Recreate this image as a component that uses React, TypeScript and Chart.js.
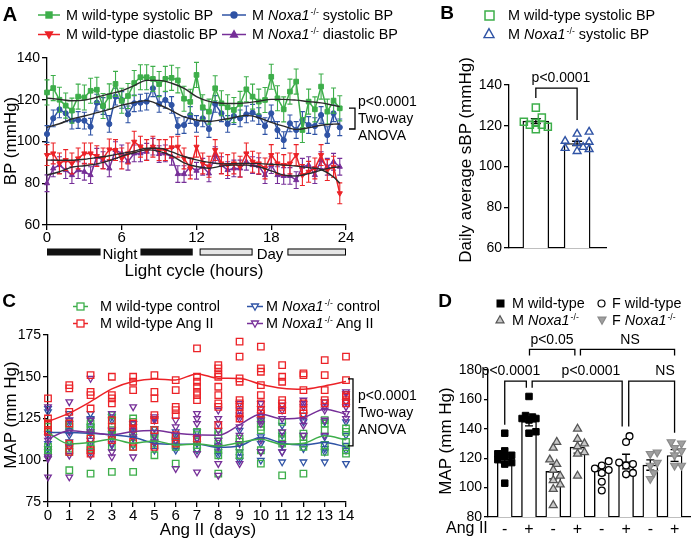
import React, { useEffect, useRef } from 'react';
import { Chart, registerables } from 'chart.js';

Chart.register(...registerables);

const FONT = "'Liberation Sans', Arial, Helvetica, sans-serif";
Chart.defaults.font.family = FONT;
Chart.defaults.color = '#000';

const GREEN = '#3DAE4A';
const BLUE = '#2F53A5';
const RED = '#EC2227';
const PURPLE = '#762F98';
const FIT = '#2a2a2a';
const CLEAR = 'rgba(255,255,255,0)';

// ---------------- Panel A data ----------------
const hoursA = [0, 0.5, 1, 1.5, 2, 2.5, 3, 3.5, 4, 4.5, 5, 5.5, 6, 6.5, 7, 7.5, 8, 8.5, 9, 9.5, 10, 10.5, 11, 11.5, 12, 12.5, 13, 13.5, 14, 14.5, 15, 15.5, 16, 16.5, 17, 17.5, 18, 18.5, 19, 19.5, 20, 20.5, 21, 21.5, 22, 22.5, 23, 23.5];
const wtSystolic = [123.5, 125.6, 120, 117.2, 114.8, 121.5, 121.1, 124.3, 124.8, 117, 121.6, 127.6, 119.5, 121.8, 128, 130.8, 130.8, 130, 127.5, 130, 130.5, 129.3, 120.5, 119, 131.9, 116.4, 114.3, 125.5, 118.3, 116.4, 115.1, 118, 125, 121.5, 119.1, 119.9, 131, 120.7, 115.4, 123.9, 128.7, 105.5, 119.1, 115.4, 126.3, 114.3, 119.6, 115.9];
const koSystolic = [103.6, 111.1, 115.4, 113.5, 110, 110.3, 110, 107.1, 118.6, 117, 108.4, 121.5, 119.9, 113, 118.3, 118.6, 119.1, 125.5, 118, 119.9, 117.5, 107.4, 107.9, 112.7, 108.4, 111.1, 106, 118, 113.5, 108.4, 112.2, 111.1, 113, 113.8, 112.2, 107.4, 113.5, 105.5, 100.7, 108.7, 105.5, 110.3, 107.9, 107.4, 112.7, 103.1, 113.5, 106.8];
const wtDiastolic = [93.5, 94.3, 89.5, 91.1, 89.5, 91.9, 94.3, 94.3, 93, 91.9, 96.2, 95.9, 91.9, 94.3, 99.9, 97.5, 95.9, 97.5, 95.9, 95.9, 97.2, 97.5, 91.9, 87.1, 97.5, 89.5, 87.9, 95.9, 89.5, 88.7, 89.5, 87.9, 94.3, 90.3, 89.5, 87.1, 93.5, 89.5, 88.7, 89.5, 93.5, 83.9, 85.5, 87.1, 93.5, 86.3, 87.9, 75.2];
const koDiastolic = [80, 87.1, 88.7, 86.3, 83.9, 86.3, 85.5, 83.9, 92.7, 91.1, 87.1, 95.9, 94.3, 90.3, 94.3, 94.3, 95.1, 97.5, 94, 94.3, 92.7, 84.4, 84.4, 87.9, 86, 87.9, 84.7, 93.5, 88.7, 86.3, 87.1, 87.1, 90.3, 88.7, 88.2, 83.9, 88.7, 83.9, 83.5, 83.5, 81.5, 87.9, 88.7, 83.9, 91.1, 87.9, 90.3, 87.9];
const semWtSys = 6;
const semKoSys = 4;
const semWtDia = 5;
const semKoDia = 4;
const fitHours = [0, 1, 2, 3, 4, 5, 6, 7, 8, 9, 10, 11, 12, 13, 14, 15, 16, 17, 18, 19, 20, 21, 22, 23, 23.5];
const fitWtSys = [120.8, 120.2, 119.5, 119.8, 121.2, 122.8, 124.3, 126.8, 129.3, 129.3, 127.9, 125.5, 121.5, 119.2, 118.3, 118.2, 118.5, 119.3, 120.2, 120.2, 119.8, 119.1, 118.5, 117.3, 116.7];
const fitKoSys = [106.8, 108.5, 110.8, 112.2, 113.8, 115.4, 117.4, 118.7, 119.6, 117.6, 114.8, 111.8, 110.3, 109.6, 110.4, 111.5, 112.5, 111.4, 109.2, 107.4, 105.8, 106.6, 107.8, 108.3, 108.4];
const fitWtDia = [91.1, 91.0, 91.0, 91.5, 92.3, 93.2, 94.3, 95.4, 96.8, 96.8, 95, 92.8, 91.2, 90.0, 89.3, 89.4, 89.5, 89.4, 89.1, 88.7, 88.2, 87.5, 86.6, 83, 80];
const fitKoDia = [83.9, 85.5, 87.7, 88.4, 89.3, 90.8, 93, 94.6, 96, 95.3, 93.2, 89.8, 88, 87.2, 88.2, 88.7, 88.7, 87.9, 85.9, 83.9, 83.5, 84.6, 86.3, 87.6, 87.9];
const nightFrom = [0, 7.5];
const nightTo = [4.3, 11.7];
const dayFrom = [12.25, 19.3];
const dayTo = [16.5, 24];
const bracketA = [106, 116];

// ---------------- Panel B data ----------------
const bWtSys = [128.9, 124, 119.5, 120.5, 120.5, 122, 118.3, 121.5];
const bKoSys = [116, 117, 112.5, 112, 111.5, 107.5, 109.5, 108.5, 109];
const bMeans = [122.3, 111.3];
const bSem = [1.2, 1.1];

// ---------------- Panel C data ----------------
const cDays = [0, 1, 2, 3, 4, 5, 6, 7, 8, 9, 10, 11, 12, 13, 14];
const cWtCtrl = [
  [122, 120, 108, 106, 104], [122, 120, 109, 107, 105, 94], [122, 120, 118, 115, 109, 107, 92],
  [127, 124, 120, 118, 115, 108, 93], [125, 123, 117, 110, 108, 93], [118, 116, 113, 110, 103],
  [114, 112, 110, 108, 98], [117, 115, 112, 109, 107], [117, 115, 110, 107, 103, 92],
  [113, 111, 108, 103], [124, 122, 120, 118, 106, 98], [123, 116, 113, 110, 91],
  [116, 114, 110, 108, 92], [124, 122, 118, 109, 105], [119, 117, 111, 106, 104],
];
const cWtAng = [
  [137, 125, 122, 118, 117], [145, 143, 129, 122, 110, 105], [151, 141, 139, 131, 113, 106, 104],
  [150, 139, 137, 134, 124, 120, 112], [150, 147, 142, 122, 119, 111, 108], [151, 141, 137, 127, 124, 118, 108],
  [148, 142, 132, 130, 127, 115, 110], [167, 150, 147, 144, 141, 139, 136, 113], [157, 155, 152, 150, 144, 139, 134, 132, 121],
  [171, 162, 149, 147, 136, 134, 132, 128, 125], [168, 155, 153, 145, 139, 134, 130, 128], [157, 150, 147, 136, 134, 132, 130],
  [152, 151, 142, 134, 130, 128], [160, 151, 142, 136, 134], [162, 148, 139, 138, 136, 134],
];
const cKoCtrl = [
  [131, 129, 116, 110, 107, 105], [128, 124, 122, 118, 115, 111, 108], [128, 125, 124, 120, 116, 110, 105],
  [126, 124, 118, 116, 113, 109], [122, 120, 117, 113, 109], [125, 119, 114, 110, 106],
  [117, 115, 111, 108, 106], [117, 113, 110, 106], [112, 109, 105, 103],
  [118, 110, 105, 102, 100], [126, 124, 114, 110, 105, 100], [121, 115, 109, 105, 99],
  [127, 123, 115, 107, 99], [123, 114, 110, 107, 105, 99], [123, 115, 109, 106, 98],
];
const cKoAng = [
  [132, 114, 112, 102, 101, 90], [135, 124, 117, 108, 103, 90], [149, 124, 117, 112, 103],
  [128, 118, 110, 105, 102], [132, 122, 118, 114, 102], [126, 124, 115, 111],
  [124, 120, 115, 112, 95], [128, 125, 122, 113, 104, 93], [130, 125, 122, 118, 112, 108, 98, 91],
  [134, 130, 127, 125, 120, 115, 110, 98], [134, 131, 127, 124, 122, 112, 105], [133, 130, 125, 117, 110, 105],
  [136, 134, 132, 124, 121, 115], [135, 132, 130, 124, 115], [141, 140, 135, 132, 128, 125],
];
const cWtCtrlMean = [116.5, 109.8, 110.6, 112.6, 110.2, 111.6, 109.2, 109.8, 108.6, 110.6, 112.6, 109.6, 110.2, 114.6, 112.2];
const cWtAngMean = [123.2, 128.2, 135.1, 142.7, 147.1, 148.7, 148.1, 151.7, 149.1, 149, 145.5, 143.1, 142.5, 144.5, 147.1];
const cKoCtrlMean = [116.6, 116.6, 116.1, 115.2, 113.8, 110.2, 109.6, 109.6, 107.8, 108.6, 113.8, 110.2, 109.2, 110.6, 108];
const cKoAngMean = [112.8, 117.6, 116.6, 115.2, 117.2, 117.8, 116.2, 115.2, 115, 121.2, 127.6, 124.8, 125.6, 130.6, 127.6];
const bracketC = [108.6, 148.7];

// ---------------- Panel D data ----------------
const dAngII = ['-', '+', '-', '+', '-', '+', '-', '+'];
const dMeans = [119.5, 145, 111, 127.5, 111.5, 117.7, 115.3, 121.8];
const dSem = [3, 3, 5, 4, 3, 5, 3.5, 4];
const dMWtCtrl = [137, 125, 123, 122, 121, 119, 117, 116, 103];
const dMWtAng = [162, 149, 148, 147, 147, 146, 138, 137];
const dMKoCtrl = [131, 127, 119, 116, 112, 108, 105, 102, 99, 88];
const dMKoAng = [140, 133, 130, 128, 124, 123, 108];
const dFWtCtrl = [118, 115, 113, 112, 110, 104, 98];
const dFWtAng = [135, 131, 117, 116, 115, 110, 109];
const dFKoCtrl = [124, 123, 117, 115, 110, 106];
const dFKoAng = [131, 130, 127, 125, 122, 115, 115];
// significance brackets: [x1, x2, yTop, leg1Bottom, leg2Bottom]
const dBrackets = [
  [1, 1.89, 172.4, 142.8, 168],
  [2.13, 5.84, 172.4, 168, 141.6],
  [6.11, 8, 172.4, 141.6, 137.3],
  [2.02, 3.89, 194, 189.9, 189.9],
  [4.12, 8, 194, 189.9, 189.9],
];

// ---------------- helpers ----------------
function swarm(vals: number[], center: number, pxPerY: number, pxPerX: number, size: number, step: number, maxSteps: number) {
  const placed: { x: number; y: number }[] = [];
  const order = vals.map((_, i) => i).sort((a, b) => vals[a] - vals[b]);
  const out: any[] = new Array(vals.length);
  for (const i of order) {
    const py = vals[i] * pxPerY;
    let best = 0, bestD = -1;
    for (let k = 0; k <= maxSteps * 2; k++) {
      const off = (k % 2 === 1 ? 1 : -1) * Math.ceil(k / 2) * step;
      const d = placed.length ? Math.min(...placed.map((p) => Math.hypot(p.x - off, p.y - py))) : Infinity;
      if (d >= size) { best = off; bestD = d; break; }
      if (d > bestD) { bestD = d; best = off; }
    }
    placed.push({ x: best, y: py });
    out[i] = { x: center + best / pxPerX, y: vals[i] };
  }
  return out;
}

function drawErr(chart: any, args: any, after: boolean) {
  const ds = chart.data.datasets[args.index];
  if (ds.err == null || !!ds.errAfter !== after) return;
  const ys = chart.scales.y;
  const ctx = chart.ctx;
  ctx.save();
  ctx.strokeStyle = ds.errColor || ds.borderColor;
  ctx.lineWidth = ds.errWidth || 1.2;
  const cap = ds.errCap ?? 2.5;
  args.meta.data.forEach((el: any, i: number) => {
    const raw = ds.data[i];
    const v = typeof raw === 'number' ? raw : raw.y;
    const e = Array.isArray(ds.err) ? ds.err[i] : ds.err;
    const x = el.x;
    const t = ys.getPixelForValue(v + e);
    const b = ys.getPixelForValue(v - e);
    ctx.beginPath();
    ctx.moveTo(x, t);
    ctx.lineTo(x, b);
    ctx.moveTo(x - cap, t);
    ctx.lineTo(x + cap, t);
    ctx.moveTo(x - cap, b);
    ctx.lineTo(x + cap, b);
    ctx.stroke();
  });
  ctx.restore();
}

const errorBars = {
  id: 'errorBars',
  beforeDatasetDraw(chart: any, args: any) { drawErr(chart, args, false); },
  afterDatasetDraw(chart: any, args: any) { drawErr(chart, args, true); },
};

const fixX = (h: number) => (s: any) => { s.height = h; s.paddingLeft = 0; s.paddingRight = 0; };
const fixY = (w: number) => (s: any) => { s.width = w; s.paddingTop = 0; s.paddingBottom = 0; };

const LW = 1.3;
function axis(min: number, max: number, step: number, size: number, fit: any, tickLen = 5, pad = 2, extra: any = {}) {
  return {
    type: 'linear', min, max, offset: false,
    ticks: { stepSize: step, font: { size, family: FONT }, color: '#000', padding: pad, autoSkip: false, maxRotation: 0 },
    grid: { display: true, drawOnChartArea: false, drawTicks: true, tickLength: tickLen, color: '#000', lineWidth: LW, offset: false },
    border: { display: true, color: '#000', width: LW },
    afterFit: fit,
    ...extra,
  };
}

const baseOpts = (padding: any) => ({
  animation: false, responsive: false, events: [],
  layout: { padding },
  plugins: { legend: { display: false }, tooltip: { enabled: false }, title: { display: false } },
});

const xy = (xs: number[], ys: number[]) => ys.map((y, i) => ({ x: xs[i], y }));

// ---------------- Chart configs ----------------
function configA() {
  const fit = (vals: number[]) => ({
    data: xy(fitHours, vals), borderColor: FIT, borderWidth: 1.4, pointRadius: 0, tension: 0.4, cubicInterpolationMode: 'monotone', clip: false,
  });
  const series = (vals: number[], color: string, style: string, r: number, rot: number, err: number) => ({
    data: xy(hoursA, vals), borderColor: color, backgroundColor: color, borderWidth: 1.5, pointStyle: style, pointRadius: r,
    pointRotation: rot, pointBorderWidth: 1, tension: 0, err, errColor: color, errWidth: 1.1, errCap: 2.5, clip: false,
  });
  const decorA = {
    id: 'decorA',
    afterDraw(chart: any) {
      const { ctx, chartArea: ca, scales: { x, y } } = chart;
      ctx.save();
      const yc = ca.bottom + 27;
      ctx.lineWidth = 1;
      ctx.strokeStyle = '#000';
      nightFrom.forEach((f, i) => {
        const x1 = x.getPixelForValue(f), x2 = x.getPixelForValue(nightTo[i]);
        ctx.fillStyle = '#111';
        ctx.fillRect(x1, yc - 3.5, x2 - x1, 7);
      });
      dayFrom.forEach((f, i) => {
        const x1 = x.getPixelForValue(f), x2 = x.getPixelForValue(dayTo[i]);
        ctx.fillStyle = '#e6e6e6';
        ctx.fillRect(x1, yc - 3.5, x2 - x1, 7);
        ctx.strokeRect(x1 + 0.5, yc - 3, x2 - x1 - 1, 6);
      });
      const bx = ca.right + 9;
      const t = y.getPixelForValue(bracketA[1]), b = y.getPixelForValue(bracketA[0]);
      ctx.lineWidth = 1.3;
      ctx.beginPath();
      ctx.moveTo(bx - 6, t); ctx.lineTo(bx, t); ctx.lineTo(bx, b); ctx.lineTo(bx - 6, b);
      ctx.stroke();
      ctx.restore();
    },
  };
  return {
    type: 'line',
    data: {
      datasets: [
        fit(fitWtSys), fit(fitKoSys), fit(fitWtDia), fit(fitKoDia),
        series(wtSystolic, GREEN, 'rect', 3.3, 0, semWtSys),
        series(koSystolic, BLUE, 'circle', 2.6, 0, semKoSys),
        series(wtDiastolic, RED, 'triangle', 3, 180, semWtDia),
        series(koDiastolic, PURPLE, 'triangle', 3, 0, semKoDia),
      ],
    },
    options: {
      ...baseOpts({ left: 0, top: 58, right: 94, bottom: 0 }),
      scales: {
        x: axis(0, 24, 6, 15, fixX(35), 5, -1),
        y: axis(60, 140, 20, 14, fixY(47), 5, 2),
      },
    },
    plugins: [errorBars, decorA],
  };
}

function configB() {
  const pxY = 163 / 80, pxX = 97 / 2.35;
  const decorB = {
    id: 'decorB',
    afterDraw(chart: any) {
      const { ctx, scales: { x, y } } = chart;
      ctx.save();
      ctx.lineWidth = 1.3; ctx.strokeStyle = '#000';
      const x1 = x.getPixelForValue(1), x2 = x.getPixelForValue(2);
      ctx.beginPath();
      ctx.moveTo(x1, y.getPixelForValue(133.6)); ctx.lineTo(x1, y.getPixelForValue(138.5));
      ctx.lineTo(x2, y.getPixelForValue(138.5)); ctx.lineTo(x2, y.getPixelForValue(122.8));
      ctx.stroke();
      ctx.restore();
    },
  };
  return {
    type: 'bar',
    data: {
      datasets: [
        { type: 'scatter', data: swarm(bWtSys, 1, pxY, pxX, 7, 6, 2), pointStyle: 'rect', pointRadius: 5, borderColor: GREEN, backgroundColor: CLEAR, borderWidth: 1.5, clip: false },
        { type: 'scatter', data: swarm(bKoSys, 2, pxY, pxX, 7, 6, 2), pointStyle: 'triangle', pointRadius: 4.5, borderColor: BLUE, backgroundColor: CLEAR, borderWidth: 1.4, clip: false },
        { type: 'bar', data: xy([1, 2], bMeans), barThickness: 26, backgroundColor: '#fff', borderColor: '#000', borderWidth: 1.4, err: bSem, errAfter: true, errColor: '#000', errWidth: 1.3, errCap: 5 },
      ],
    },
    options: {
      ...baseOpts({ left: 0, top: 85, right: 90, bottom: 0 }),
      scales: {
        x: axis(0.35, 2.7, 1, 14, fixX(14), 0, 0, { ticks: { display: false }, grid: { display: false, offset: false } }),
        y: axis(60, 140, 20, 14, fixY(69), 5, 2),
      },
    },
    plugins: [errorBars, decorB],
  };
}

function configC() {
  const pts = (groups: number[][]) => groups.flatMap((vals, d) => vals.map((v) => ({ x: cDays[d], y: v })));
  const scatter = (groups: number[][], color: string, style: string, r: number, rot: number) => ({
    type: 'scatter', data: pts(groups), pointStyle: style, pointRadius: r, pointRotation: rot, borderColor: color, backgroundColor: CLEAR, borderWidth: 1.3, clip: false,
  });
  const line = (vals: number[], color: string) => ({
    type: 'line', data: xy(cDays, vals), borderColor: color, borderWidth: 1.5, pointRadius: 0, tension: 0.35, cubicInterpolationMode: 'monotone', clip: false,
  });
  const decorC = {
    id: 'decorC',
    afterDraw(chart: any) {
      const { ctx, chartArea: ca, scales: { y } } = chart;
      ctx.save();
      ctx.lineWidth = 1.3; ctx.strokeStyle = '#000';
      const bx = ca.right + 7;
      const t = y.getPixelForValue(bracketC[1]), b = y.getPixelForValue(bracketC[0]);
      ctx.beginPath();
      ctx.moveTo(bx - 5, t); ctx.lineTo(bx, t); ctx.lineTo(bx, b); ctx.lineTo(bx - 5, b);
      ctx.stroke();
      ctx.restore();
    },
  };
  return {
    type: 'line',
    data: {
      datasets: [
        line(cWtAngMean, RED), line(cKoAngMean, PURPLE), line(cWtCtrlMean, GREEN), line(cKoCtrlMean, BLUE),
        scatter(cWtAng, RED, 'rect', 4.6, 0),
        scatter(cKoAng, PURPLE, 'triangle', 3.8, 180),
        scatter(cWtCtrl, GREEN, 'rect', 4.6, 0),
        scatter(cKoCtrl, BLUE, 'triangle', 3.8, 180),
      ],
    },
    options: {
      ...baseOpts({ left: 0, top: 55, right: 94, bottom: 0 }),
      scales: {
        x: axis(0, 14, 1, 15, fixX(38), 5, 0),
        y: axis(75, 175, 25, 14, fixY(48), 5, 2),
      },
    },
    plugins: [errorBars, decorC],
  };
}

function configD() {
  const pxY = 147 / 100, pxX = 205 / 8.33;
  const groups = [dMWtCtrl, dMWtAng, dMKoCtrl, dMKoAng, dFWtCtrl, dFWtAng, dFKoCtrl, dFKoAng];
  const styles = [
    { pointStyle: 'rect', pointRadius: 4.6, pointRotation: 0, borderColor: '#000', backgroundColor: '#000', borderWidth: 1 },
    { pointStyle: 'triangle', pointRadius: 4.6, pointRotation: 0, borderColor: '#555', backgroundColor: '#c8c8c8', borderWidth: 1.3 },
    { pointStyle: 'circle', pointRadius: 3.4, pointRotation: 0, borderColor: '#000', backgroundColor: '#fff', borderWidth: 1.3 },
    { pointStyle: 'triangle', pointRadius: 4.6, pointRotation: 180, borderColor: '#8a8a8a', backgroundColor: '#a0a0a0', borderWidth: 1.2 },
  ];
  const decorD = {
    id: 'decorD',
    afterDraw(chart: any) {
      const { ctx, scales: { x, y } } = chart;
      ctx.save();
      ctx.lineWidth = 1.3; ctx.strokeStyle = '#000';
      dBrackets.forEach(([x1, x2, yt, l1, l2]) => {
        const px1 = x.getPixelForValue(x1), px2 = x.getPixelForValue(x2);
        ctx.beginPath();
        ctx.moveTo(px1, y.getPixelForValue(l1)); ctx.lineTo(px1, y.getPixelForValue(yt));
        ctx.lineTo(px2, y.getPixelForValue(yt)); ctx.lineTo(px2, y.getPixelForValue(l2));
        ctx.stroke();
      });
      ctx.restore();
    },
  };
  const ticksAt = dAngII.map((_, i) => i + 1);
  return {
    type: 'bar',
    data: {
      datasets: [
        ...groups.map((g, i) => ({ type: 'scatter', data: swarm(g, i + 1, pxY, pxX, 6, 3.5, 2), clip: false, ...styles[Math.floor(i / 2)] })),
        { type: 'bar', data: xy(ticksAt, dMeans), barThickness: 15, backgroundColor: '#fff', borderColor: '#000', borderWidth: 1.4, err: dSem, errAfter: true, errColor: '#000', errWidth: 1.3, errCap: 4 },
      ],
    },
    options: {
      ...baseOpts({ left: 0, top: 90, right: 3, bottom: 0 }),
      scales: {
        x: axis(0.31, 8.64, 1, 16, fixX(23), 0, 1, {
          grid: { display: false, offset: false },
          afterBuildTicks: (s: any) => { s.ticks = ticksAt.map((v) => ({ value: v })); },
          ticks: { font: { size: 16, family: FONT }, color: '#000', padding: -5, autoSkip: false, maxRotation: 0, callback: (_v: any, i: number) => dAngII[i] },
        }),
        y: axis(80, 180, 20, 14, fixY(68), 4, 2),
      },
    },
    plugins: [errorBars, decorD],
  };
}

// ---------------- React components ----------------
function ChartBox({ make, left, top, width, height }: any) {
  const ref = useRef<HTMLCanvasElement>(null);
  useEffect(() => {
    const chart = new Chart(ref.current as any, make() as any);
    return () => chart.destroy();
  }, []);
  return (
    <div style={{ position: 'absolute', left, top, width, height }}>
      <canvas ref={ref} width={width} height={height} style={{ width, height, display: 'block' }} />
    </div>
  );
}

function T({ x, y, size = 14, bold = false, anchor = 'start', rotate = false, children }: any) {
  const style: any = {
    position: 'absolute', left: x, top: y, fontSize: size, fontWeight: bold ? 'bold' : 'normal', lineHeight: 1,
    whiteSpace: 'nowrap', color: '#000',
    transform: rotate ? 'translate(-50%,-50%) rotate(-90deg)' : anchor === 'middle' ? 'translate(-50%,-50%)' : 'translate(0,-50%)',
  };
  return <div style={style}>{children}</div>;
}

function KO() {
  return (
    <>
      <i>Noxa1</i>
      <span style={{ fontSize: '0.6em', position: 'relative', top: '-0.55em', marginLeft: 1 }}>-/-</span>
    </>
  );
}

function Mk({ x, y, w = 0, shape, stroke, fill = 'none', size = 7, sw = 1.4, lineColor }: any) {
  const W = Math.max(w, size + 4), H = size + 4;
  const cx = W / 2, cy = H / 2, r = size / 2;
  const h = size * 0.9;
  let el: any = null;
  if (shape === 'rect') el = <rect x={cx - r} y={cy - r} width={size} height={size} fill={fill} stroke={stroke} strokeWidth={sw} />;
  else if (shape === 'circle') el = <circle cx={cx} cy={cy} r={r} fill={fill} stroke={stroke} strokeWidth={sw} />;
  else if (shape === 'tri') el = <polygon points={`${cx},${cy - h * 0.6} ${cx - r},${cy + h * 0.4} ${cx + r},${cy + h * 0.4}`} fill={fill} stroke={stroke} strokeWidth={sw} />;
  else if (shape === 'triDown') el = <polygon points={`${cx},${cy + h * 0.6} ${cx - r},${cy - h * 0.4} ${cx + r},${cy - h * 0.4}`} fill={fill} stroke={stroke} strokeWidth={sw} />;
  return (
    <svg style={{ position: 'absolute', left: x - W / 2, top: y - H / 2 }} width={W} height={H}>
      {w > 0 && <line x1={0} y1={cy} x2={W} y2={cy} stroke={lineColor || stroke} strokeWidth={1.5} />}
      {el}
    </svg>
  );
}

export default function App() {
  return (
    <div style={{ position: 'fixed', left: 0, top: 0, width: 696, height: 540, background: '#fff', fontFamily: FONT, overflow: 'hidden' }}>
      <ChartBox make={configA} left={0} top={0} width={440} height={260} />
      <ChartBox make={configB} left={440} top={0} width={256} height={262} />
      <ChartBox make={configC} left={0} top={280} width={440} height={260} />
      <ChartBox make={configD} left={420} top={280} width={276} height={260} />

      {/* Panel letters */}
      <T x={10} y={14} size={20} bold anchor="middle">A</T>
      <T x={447} y={12} size={19} bold anchor="middle">B</T>
      <T x={9} y={300} size={19} bold anchor="middle">C</T>
      <T x={445} y={300} size={19} bold anchor="middle">D</T>

      {/* Panel A */}
      <Mk x={49} y={15} w={22} shape="rect" stroke={GREEN} fill={GREEN} size={6} />
      <T x={66} y={15} size={14.4}>M wild-type systolic BP</T>
      <Mk x={234} y={15} w={24} shape="circle" stroke={BLUE} fill={BLUE} size={6} />
      <T x={252} y={15} size={14.4}>M <KO /> systolic BP</T>
      <Mk x={49} y={34} w={22} shape="triDown" stroke={RED} fill={RED} size={7} />
      <T x={66} y={34} size={14.4}>M wild-type diastolic BP</T>
      <Mk x={234} y={34} w={24} shape="tri" stroke={PURPLE} fill={PURPLE} size={7} />
      <T x={252} y={34} size={14.4}>M <KO /> diastolic BP</T>
      <T x={358} y={101}>p&lt;0.0001</T>
      <T x={358} y={118}>Two-way</T>
      <T x={358} y={135}>ANOVA</T>
      <T x={10} y={141} size={17} rotate>BP (mmHg)</T>
      <T x={120} y={253} size={15} anchor="middle">Night</T>
      <T x={270} y={253} size={15} anchor="middle">Day</T>
      <T x={194} y={270} size={17} anchor="middle">Light cycle (hours)</T>

      {/* Panel B */}
      <Mk x={489} y={15} shape="rect" stroke={GREEN} fill="#fff" size={9} sw={1.5} />
      <T x={508} y={15} size={14.4}>M wild-type systolic BP</T>
      <Mk x={489} y={34} shape="tri" stroke={BLUE} fill="#fff" size={10} sw={1.4} />
      <T x={508} y={34} size={14.4}>M <KO /> systolic BP</T>
      <T x={561} y={77} anchor="middle">p&lt;0.0001</T>
      <T x={465} y={160} size={17} rotate>Daily average sBP (mmHg)</T>

      {/* Panel C */}
      <Mk x={80} y={306} w={15} shape="rect" stroke={GREEN} fill="#fff" size={7} sw={1.3} />
      <T x={100} y={306} size={14.4}>M wild-type control</T>
      <Mk x={255} y={306} w={16} shape="triDown" stroke={BLUE} fill="#fff" size={7} sw={1.3} />
      <T x={266} y={306} size={14.4}>M <KO /> control</T>
      <Mk x={80} y={323} w={15} shape="rect" stroke={RED} fill="#fff" size={7} sw={1.3} />
      <T x={100} y={323} size={14.4}>M wild-type Ang II</T>
      <Mk x={255} y={323} w={16} shape="triDown" stroke={PURPLE} fill="#fff" size={7} sw={1.3} />
      <T x={266} y={323} size={14.4}>M <KO /> Ang II</T>
      <T x={358} y={395}>p&lt;0.0001</T>
      <T x={358} y={412}>Two-way</T>
      <T x={358} y={429}>ANOVA</T>
      <T x={10} y={415} size={17} rotate>MAP (mm Hg)</T>
      <T x={208} y={529} size={17} anchor="middle">Ang II (days)</T>

      {/* Panel D */}
      <Mk x={500} y={303} shape="rect" stroke="#000" fill="#000" size={7} sw={1} />
      <T x={512} y={303} size={14.4}>M wild-type</T>
      <Mk x={601} y={303} shape="circle" stroke="#000" fill="#fff" size={7} sw={1.2} />
      <T x={612} y={303} size={14.4}>F wild-type</T>
      <Mk x={500} y={320} shape="tri" stroke="#555" fill="#c8c8c8" size={8} sw={1.2} />
      <T x={512} y={320} size={14.4}>M <KO /></T>
      <Mk x={602} y={320} shape="triDown" stroke="#8a8a8a" fill="#a0a0a0" size={8} sw={1.2} />
      <T x={612} y={320} size={14.4}>F <KO /></T>
      <T x={552} y={339} anchor="middle">p&lt;0.05</T>
      <T x={630} y={339} anchor="middle">NS</T>
      <T x={511} y={370} anchor="middle">p&lt;0.0001</T>
      <T x={591} y={370} anchor="middle">p&lt;0.0001</T>
      <T x={665} y={370} anchor="middle">NS</T>
      <T x={445} y={441} size={17} rotate>MAP (mm Hg)</T>
      <T x={446} y={528} size={16}>Ang II</T>
    </div>
  );
}
